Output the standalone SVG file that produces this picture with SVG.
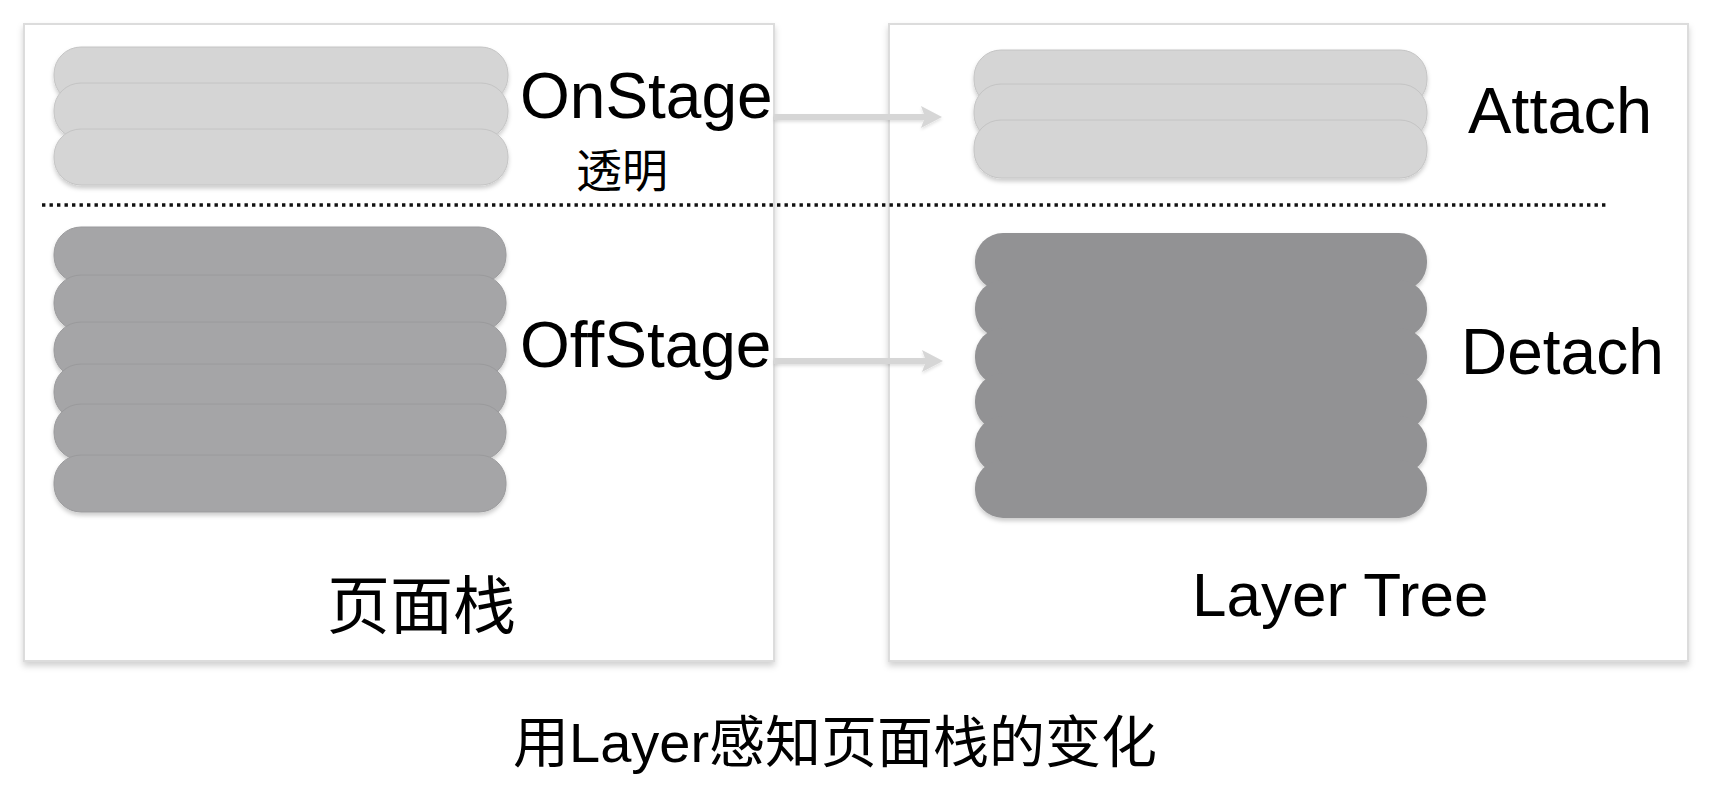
<svg xmlns="http://www.w3.org/2000/svg" width="1710" height="796" viewBox="0 0 1710 796">
<defs>
<filter id="sh" x="-5%" y="-5%" width="110%" height="115%">
<feDropShadow dx="0" dy="4" stdDeviation="3" flood-color="#000" flood-opacity="0.18"/>
</filter>
<filter id="psh" x="-5%" y="-20%" width="110%" height="150%">
<feDropShadow dx="0" dy="3" stdDeviation="2" flood-color="#000" flood-opacity="0.2"/>
</filter>
<filter id="ash" x="-10%" y="-100%" width="120%" height="300%">
<feDropShadow dx="0" dy="2" stdDeviation="1.5" flood-color="#000" flood-opacity="0.12"/>
</filter>
</defs>
<style>
.panel{fill:#fff;stroke:#dcdcdc;stroke-width:2}
.lp{fill:#d5d5d5;stroke:#c4c4c4;stroke-width:1}
.dp{fill:#a5a5a7;stroke:#9a9a9c;stroke-width:1}
.rp{fill:#929294}
.lat{font-family:"Liberation Sans",Arial,sans-serif;fill:#000}
.cjk{font-family:"Liberation Sans","Noto Sans CJK SC",sans-serif;fill:#000}
.conn{stroke:#d6d6d6;stroke-width:6;fill:none}
.head{fill:#d6d6d6}
</style>
<rect width="1710" height="796" fill="#fff"/>

<g id="panel-left">
<rect class="panel" x="24" y="24" width="750" height="637" filter="url(#sh)"/>
</g>
<g id="panel-right">
<rect class="panel" x="889" y="24" width="799" height="637" filter="url(#sh)"/>
</g>

<line x1="42" y1="205" x2="1606" y2="205" stroke="#111" stroke-width="3.4" stroke-dasharray="3.4,4.1"/>

<g id="onstage-stack" filter="url(#psh)">
<rect class="lp" x="54" y="47" width="454" height="56" rx="27"/>
<rect class="lp" x="54" y="83" width="454" height="56" rx="27"/>
<rect class="lp" x="54" y="129" width="454" height="56" rx="27"/>
</g>

<g id="offstage-stack" filter="url(#psh)">
<rect class="dp" x="54" y="227" width="452" height="56" rx="27"/>
<rect class="dp" x="54" y="275" width="452" height="56" rx="27"/>
<rect class="dp" x="54" y="322" width="452" height="56" rx="27"/>
<rect class="dp" x="54" y="364" width="452" height="56" rx="27"/>
<rect class="dp" x="54" y="404" width="452" height="56" rx="27"/>
<rect class="dp" x="54" y="455" width="452" height="57" rx="27"/>
</g>

<g id="attach-stack" filter="url(#psh)">
<rect class="lp" x="974" y="50" width="453" height="57" rx="27"/>
<rect class="lp" x="974" y="84" width="453" height="57" rx="27"/>
<rect class="lp" x="974" y="120" width="453" height="58" rx="27"/>
</g>

<g id="detach-stack" filter="url(#psh)">
<rect class="rp" x="975" y="233" width="452" height="58" rx="28"/>
<rect class="rp" x="975" y="280" width="452" height="58" rx="28"/>
<rect class="rp" x="975" y="328" width="452" height="58" rx="28"/>
<rect class="rp" x="975" y="373" width="452" height="58" rx="28"/>
<rect class="rp" x="975" y="416" width="452" height="58" rx="28"/>
<rect class="rp" x="975" y="460" width="452" height="58" rx="28"/>
</g>

<g id="connectors" filter="url(#ash)">
<line class="conn" x1="774" y1="117" x2="926" y2="117"/>
<path class="head" d="M921,106 L942,117 L921,128 L925,117 Z"/>
<line class="conn" x1="774" y1="361" x2="927" y2="361"/>
<path class="head" d="M922,350 L943,361 L922,372 L926,361 Z"/>
</g>

<g id="labels">
<text class="lat" x="520" y="118" font-size="64">OnStage</text>
<text class="cjk" x="576" y="187" font-size="46">透明</text>
<text class="lat" x="520" y="367" font-size="64">OffStage</text>
<text class="lat" x="1468" y="133" font-size="65">Attach</text>
<text class="lat" x="1461" y="374" font-size="64">Detach</text>
<text class="cjk" x="327" y="628" font-size="63">页面栈</text>
<text class="lat" x="1192" y="616" font-size="62">Layer Tree</text>
<text class="cjk" x="513" y="762" font-size="56">用Layer感知页面栈的变化</text>
</g>
</svg>
